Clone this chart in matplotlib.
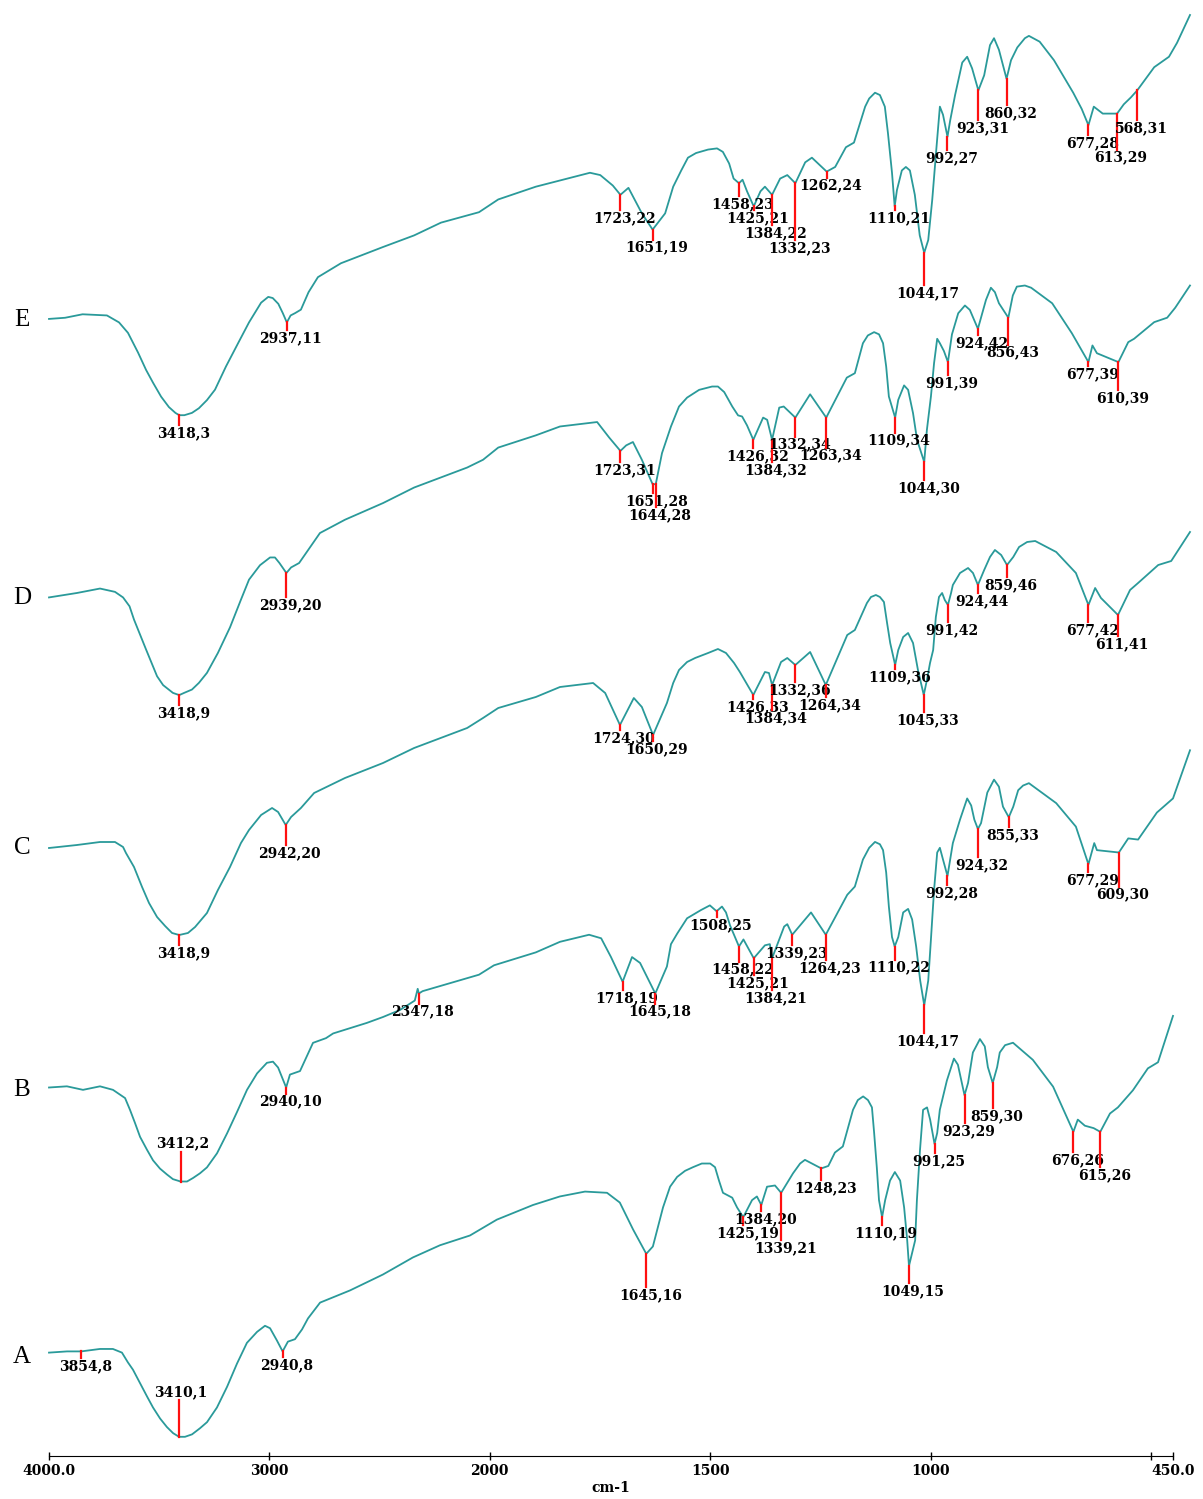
import numpy as np
import matplotlib.pyplot as plt

# FTIR spectra A-E: (wavenumber cm-1, %T)
A_pts = [(4000, 7.9), (3918, 8.0), (3769, 8.2), (3710, 8.2), (3669, 7.9), (3642, 7.1),
         (3619, 6.5), (3587, 5.4), (3555, 4.3), (3528, 3.4), (3496, 2.5), (3465, 1.8),
         (3437, 1.3), (3383, 1.0), (3351, 1.2), (3315, 1.7), (3283, 2.2), (3238, 3.4),
         (3192, 5.1), (3147, 7.0), (3102, 8.7), (3056, 9.6), (3020, 10.1), (2997, 9.9),
         (2966, 8.9), (2916, 8.8), (2884, 9.0), (2852, 9.8), (2825, 10.7), (2770, 12.0),
         (2634, 13.0), (2485, 14.3), (2349, 15.7), (2226, 16.7), (2090, 17.5), (1984, 18.8),
         (1902, 20.0), (1841, 20.7), (1784, 21.1), (1734, 21.0), (1705, 20.2), (1675, 18.0),
         (1630, 16.6), (1607, 19.8), (1591, 21.5), (1575, 22.3), (1557, 22.8), (1539, 23.1),
         (1519, 23.4), (1500, 23.4), (1489, 23.1), (1480, 22.0), (1471, 21.0), (1450, 20.6),
         (1439, 19.8), (1405, 20.4), (1394, 20.7), (1371, 21.5), (1353, 21.6), (1312, 22.6),
         (1296, 23.4), (1285, 23.7), (1232, 23.2), (1217, 24.3), (1199, 24.8), (1176, 27.8),
         (1165, 28.6), (1153, 28.9), (1142, 28.6), (1133, 28.0), (1128, 25.9), (1122, 23.1),
         (1117, 20.4), (1103, 20.4), (1092, 22.0), (1081, 22.7), (1069, 22.0), (1060, 19.8),
         (1053, 17.1), (1035, 17.1), (1031, 20.4), (1024, 24.5), (1017, 27.8), (1008, 28.0),
         (1001, 27.0), (985, 25.9), (979, 27.8), (963, 30.2), (947, 32.0), (938, 31.5),
         (929, 30.0), (915, 30.0), (904, 32.5), (888, 33.6), (877, 33.0), (870, 31.3),
         (849, 31.3), (843, 32.5), (831, 33.1), (813, 33.3), (768, 31.9), (722, 29.7),
         (666, 27.0), (650, 26.5), (630, 26.3), (593, 27.5), (575, 28.0), (541, 29.4),
         (507, 31.2), (484, 31.7), (450, 35.5)]
A_peaks = [(3854, 8), (3410, 1), (2940, 8), (1645, 16), (1425, 19), (1384, 20), (1339, 21),
           (1248, 23), (1110, 19), (1049, 15), (991, 25), (923, 29), (859, 30), (676, 26),
           (615, 26)]

B_pts = [(4000, 10.0), (3920, 10.1), (3848, 9.8), (3772, 10.1), (3714, 9.8), (3660, 9.1),
         (3638, 8.1), (3616, 7.0), (3593, 5.8), (3562, 4.7), (3535, 3.8), (3504, 3.1),
         (3473, 2.6), (3446, 2.2), (3383, 2.0), (3356, 2.3), (3325, 2.7), (3294, 3.2),
         (3249, 4.4), (3204, 6.1), (3160, 7.9), (3115, 9.8), (3070, 11.2), (3026, 12.1),
         (2999, 12.2), (2976, 11.7), (2923, 11.1), (2878, 11.4), (2820, 13.8), (2762, 14.2),
         (2730, 14.6), (2579, 15.5), (2507, 16.0), (2431, 16.6), (2365, 17.4), (2352, 18.4),
         (2330, 18.2), (2078, 19.6), (2011, 20.4), (1912, 21.5), (1858, 22.4), (1793, 23.0),
         (1766, 22.7), (1744, 21.1), (1697, 21.1), (1679, 20.6), (1619, 20.3), (1610, 22.2),
         (1596, 23.1), (1574, 24.4), (1543, 25.1), (1523, 25.5), (1496, 25.4), (1487, 24.9),
         (1478, 23.8), (1448, 22.6), (1400, 22.1), (1389, 22.2), (1357, 23.7), (1350, 23.9),
         (1297, 24.9), (1216, 26.4), (1199, 27.1), (1181, 29.4), (1167, 30.4), (1154, 30.9),
         (1143, 30.7), (1136, 30.2), (1129, 28.3), (1123, 25.4), (1116, 22.8), (1102, 22.8),
         (1091, 24.9), (1080, 25.2), (1071, 24.3), (1062, 22.0), (1053, 19.1), (1035, 19.1),
         (1029, 22.6), (1022, 26.8), (1015, 30.0), (1009, 30.4), (1002, 29.4), (986, 29.4),
         (980, 30.8), (964, 32.8), (948, 34.6), (939, 34.0), (932, 32.8), (917, 32.5),
         (903, 35.1), (888, 36.2), (877, 35.6), (868, 33.9), (845, 33.9), (834, 35.3),
         (823, 35.7), (810, 35.9), (749, 34.2), (705, 32.2), (664, 30.8), (658, 30.2),
         (588, 31.2), (566, 31.1), (524, 33.4), (488, 34.6), (450, 38.7)]
B_peaks = [(3412, 2), (2940, 10), (2347, 18), (1718, 19), (1645, 18), (1508, 25), (1458, 22),
           (1425, 21), (1384, 21), (1339, 23), (1264, 23), (1110, 22), (1044, 17), (992, 28),
           (924, 32), (855, 33), (677, 29), (609, 30)]

C_pts = [(4000, 17.7), (3875, 18.0), (3772, 18.3), (3705, 18.3), (3669, 17.8), (3656, 17.2),
         (3620, 15.8), (3584, 13.8), (3553, 12.2), (3517, 10.8), (3481, 9.9), (3450, 9.2),
         (3379, 9.2), (3347, 9.8), (3294, 11.2), (3245, 13.5), (3191, 15.8), (3142, 18.2),
         (3106, 19.5), (3052, 21.0), (3003, 21.7), (2976, 21.3), (2918, 20.8), (2874, 21.7),
         (2815, 23.2), (2677, 24.7), (2507, 26.2), (2368, 27.7), (2131, 29.7), (2060, 30.7),
         (1996, 31.7), (1912, 32.8), (1858, 33.8), (1784, 34.2), (1757, 33.2), (1693, 32.7),
         (1675, 31.8), (1619, 32.2), (1605, 34.2), (1592, 35.5), (1574, 36.3), (1556, 36.7),
         (1527, 37.2), (1505, 37.6), (1487, 37.2), (1469, 36.2), (1456, 35.3), (1400, 35.3),
         (1391, 35.2), (1364, 36.3), (1350, 36.7), (1299, 37.3), (1216, 39.0), (1199, 39.5),
         (1172, 42.2), (1163, 42.8), (1152, 43.0), (1143, 42.8), (1134, 42.3), (1127, 40.2),
         (1120, 38.2), (1102, 37.5), (1091, 38.8), (1080, 39.2), (1069, 38.2), (1058, 35.5),
         (1038, 34.5), (1031, 36.2), (1024, 37.5), (1018, 40.8), (1011, 42.8), (1004, 43.2),
         (998, 42.5), (984, 43.2), (980, 44.0), (964, 45.2), (946, 45.7), (935, 45.2),
         (910, 45.5), (897, 46.8), (886, 47.5), (872, 47.0), (845, 46.8), (832, 47.8),
         (814, 48.3), (796, 48.4), (749, 47.3), (705, 45.2), (662, 43.7), (649, 42.7),
         (584, 43.5), (566, 44.2), (521, 46.0), (492, 46.4), (450, 49.3)]
C_peaks = [(3418, 9), (2942, 20), (1724, 30), (1650, 29), (1426, 33), (1384, 34), (1332, 36),
           (1264, 34), (1109, 36), (1045, 33), (991, 42), (924, 44), (859, 46), (677, 42),
           (611, 41)]

D_pts = [(4000, 17.8), (3875, 18.2), (3772, 18.6), (3705, 18.3), (3669, 17.8), (3640, 17.0),
         (3620, 15.8), (3566, 13.1), (3517, 10.7), (3490, 9.9), (3446, 9.2), (3396, 9.2),
         (3361, 9.5), (3330, 10.1), (3294, 11.0), (3245, 12.8), (3191, 15.1), (3142, 17.6),
         (3106, 19.4), (3057, 20.7), (3012, 21.4), (2990, 21.4), (2970, 20.9), (2918, 20.5),
         (2882, 20.9), (2789, 23.6), (2677, 24.8), (2507, 26.3), (2368, 27.7), (2131, 29.5),
         (2060, 30.2), (1996, 31.3), (1912, 32.4), (1858, 33.2), (1775, 33.6), (1748, 32.2),
         (1710, 31.5), (1695, 31.8), (1675, 30.2), (1630, 30.8), (1610, 33.2), (1592, 35.0),
         (1574, 35.8), (1547, 36.5), (1518, 36.8), (1505, 36.8), (1491, 36.3), (1473, 35.0),
         (1460, 34.2), (1451, 34.1), (1440, 33.3), (1404, 34.0), (1395, 33.8), (1368, 34.9),
         (1358, 35.0), (1299, 36.1), (1217, 37.6), (1199, 38.0), (1181, 40.7), (1170, 41.4),
         (1156, 41.7), (1145, 41.5), (1136, 40.7), (1129, 38.6), (1123, 35.9), (1102, 35.6),
         (1089, 36.9), (1080, 36.5), (1069, 34.4), (1060, 32.0), (1038, 32.9), (1029, 35.9),
         (1022, 38.9), (1015, 41.1), (1009, 40.7), (1000, 40.0), (982, 41.5), (968, 43.4),
         (953, 44.1), (942, 43.7), (915, 43.3), (906, 44.6), (895, 45.7), (886, 45.3),
         (877, 44.3), (846, 45.0), (837, 45.8), (819, 45.9), (805, 45.7), (758, 44.3),
         (714, 41.6), (668, 40.5), (658, 39.8), (588, 40.8), (575, 41.1), (530, 42.6),
         (501, 43.0), (483, 43.9), (450, 45.9)]
D_peaks = [(3418, 9), (2939, 20), (1723, 31), (1651, 28), (1644, 28), (1426, 32), (1384, 32),
           (1332, 34), (1263, 34), (1109, 34), (1044, 30), (991, 39), (924, 42), (856, 43),
           (677, 39), (610, 39)]

E_pts = [(4000, 11.3), (3928, 11.4), (3850, 11.7), (3741, 11.6), (3687, 11.0), (3647, 10.1),
         (3602, 8.4), (3566, 6.9), (3535, 5.8), (3499, 4.6), (3464, 3.7), (3435, 3.2),
         (3395, 3.0), (3361, 3.2), (3330, 3.6), (3294, 4.3), (3258, 5.2), (3209, 7.2),
         (3155, 9.2), (3106, 11.0), (3052, 12.7), (3020, 13.2), (3000, 13.1), (2975, 12.6),
         (2955, 11.8), (2920, 11.6), (2900, 11.8), (2874, 12.1), (2840, 13.6), (2798, 14.9),
         (2695, 16.1), (2507, 17.5), (2368, 18.5), (2248, 19.6), (2078, 20.5), (1996, 21.6),
         (1912, 22.7), (1791, 23.9), (1768, 23.7), (1740, 22.8), (1705, 22.6), (1675, 20.4),
         (1623, 20.4), (1605, 22.7), (1587, 24.1), (1572, 25.2), (1554, 25.6), (1527, 25.9),
         (1507, 26.0), (1494, 25.7), (1480, 24.7), (1470, 23.4), (1450, 23.3), (1440, 22.3),
         (1410, 22.3), (1400, 22.7), (1366, 23.4), (1350, 23.7), (1310, 24.8), (1295, 25.2),
         (1243, 24.4), (1219, 26.1), (1201, 26.5), (1176, 29.6), (1167, 30.3), (1154, 30.8),
         (1143, 30.6), (1132, 29.6), (1125, 27.3), (1116, 23.9), (1105, 22.4), (1094, 24.1),
         (1085, 24.4), (1076, 24.1), (1065, 22.0), (1054, 18.5), (1035, 18.1), (1026, 21.6),
         (1017, 25.9), (1009, 29.6), (1002, 28.9), (986, 28.4), (975, 30.6), (959, 33.4),
         (948, 33.9), (937, 32.9), (910, 32.3), (897, 34.9), (888, 35.5), (877, 34.5),
         (850, 33.6), (836, 34.7), (819, 35.5), (810, 35.7), (786, 35.2), (754, 33.6),
         (711, 30.8), (692, 29.4), (665, 29.6), (645, 29.0), (598, 29.8), (582, 30.4),
         (530, 33.0), (497, 33.9), (479, 35.1), (450, 37.5)]
E_peaks = [(3418, 3), (2937, 11), (1723, 22), (1651, 19), (1458, 23), (1425, 21), (1384, 22),
           (1332, 23), (1262, 24), (1110, 21), (1044, 17), (992, 27), (923, 31), (860, 32),
           (677, 28), (613, 29), (568, 31)]

# length of the red marker under each peak (pixels, negative = drawn upwards)
A_drops = [7, -37, 6, 33, 8, 6, 47, 12, 8, 17, 9, 28, 25, 20, 35]
B_drops = [-30, 6, 10, 8, 10, 6, 15, 17, 32, 10, 25, 13, 28, 9, 28, 10, 8, 34]
C_drops = [10, 20, 5, 6, 4, 25, 17, 12, 4, 17, 17, 8, 12, 17, 21]
D_drops = [10, 24, 11, 9, 23, 8, 22, 19, 30, 15, 18, 13, 6, 27, 4, 28]
E_drops = [10, 8, 15, 10, 13, 4, 30, 57, 6, 4, 32, 13, 30, 26, 10, 36, 30]

W, H = 1203, 1499
TEAL = '#2a9a9a'
RED = '#ff1010'
LBL = dict(family='DejaVu Serif', fontweight='bold', fontsize=10)


def fwd(w):
    w = np.asarray(w, dtype=float)
    return np.where(w > 2000, 2000 + (w - 2000) / 2.0, w)


def inv(f):
    f = np.asarray(f, dtype=float)
    return np.where(f > 2000, 2000 + 2.0 * (f - 2000), f)


fig = plt.figure(figsize=(W / 100, H / 100), dpi=100)
# bottom trace carries the wavenumber axis; the upper traces sit on a slightly wider frame
ax = fig.add_axes([49 / W, 43 / H, 1124 / W, 1456 / H])
ax_up = fig.add_axes([49 / W, 43 / H, 1141 / W, 1456 / H])
for a in (ax, ax_up):
    a.set_xscale('function', functions=(fwd, inv))
    a.set_xlim(4000, 450)
    a.set_ylim(0, 1456)
    a.patch.set_alpha(0)
ax_up.axis('off')

for s in ('top', 'right', 'left'):
    ax.spines[s].set_visible(False)
ax.spines['bottom'].set_bounds(4000, 450)
ax.set_yticks([])
ax.set_xticks([4000, 3000, 2000, 1500, 1000, 500, 450])
ax.set_xticklabels(['4000.0', '3000', '2000', '1500', '1000', '', '450.0'])
ax.tick_params(axis='x', direction='inout', length=6, width=1, pad=3)
for t in ax.get_xticklabels():
    t.set_fontfamily('DejaVu Serif')
    t.set_fontweight('bold')
    t.set_fontsize(10)
ax.set_xlabel('cm-1', fontfamily='DejaVu Serif', fontweight='bold', fontsize=10, labelpad=2)

# (points, peaks, marker lengths, zero level px, px per %T, frame, letter, letter y)
spectra = [
    (A_pts, A_peaks, A_drops, 7, 12.2, ax, 'A', 1357),
    (B_pts, B_peaks, B_drops, 251, 11.75, ax_up, 'B', 1090),
    (C_pts, C_peaks, C_drops, 431, 10.0, ax_up, 'C', 848),
    (D_pts, D_peaks, D_drops, 661, 11.1, ax_up, 'D', 598),
    (E_pts, E_peaks, E_drops, 1006, 11.6, ax_up, 'E', 320),
]

for pts, peaks, drops, base, k, a, name, ly in spectra:
    trace = sorted(pts + peaks, key=lambda p: -p[0])
    wn = np.array([p[0] for p in trace], dtype=float)
    tr = np.array([p[1] for p in trace], dtype=float)
    a.plot(wn, base + k * tr, color=TEAL, lw=1.3, clip_on=False, zorder=2,
           solid_joinstyle='round')
    for (pw, pt), d in zip(peaks, drops):
        py = base + k * pt
        a.plot([pw, pw], [py, py - d], color=RED, lw=1.6, clip_on=False, zorder=3)
        if d >= 0:
            a.annotate(f'{pw},{pt}', xy=(pw, py - d), xytext=(4, -1),
                       textcoords='offset pixels', ha='center', va='top', **LBL)
        else:
            a.annotate(f'{pw},{pt}', xy=(pw, py - d), xytext=(2, 1),
                       textcoords='offset pixels', ha='center', va='bottom', **LBL)
    fig.text(22 / W, 1 - ly / H, name, family='Liberation Serif', fontsize=18,
             ha='center', va='center')

fig.savefig('out.png', dpi=100)
